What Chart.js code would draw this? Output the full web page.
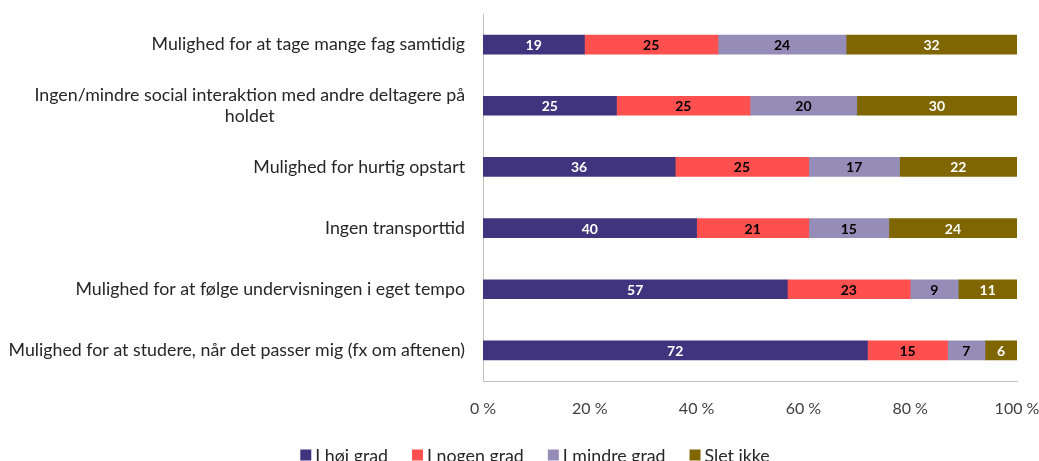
<!DOCTYPE html>
<html>
<head>
<meta charset="utf-8">
<script src="https://cdn.jsdelivr.net/npm/chart.js@4/dist/chart.umd.min.js"></script>
<style>
    html, body { margin: 0; padding: 0; background: #fff; overflow: hidden; }
    #wrap { width: 1039px; height: 461px; position: relative; }
</style>
</head>
<body>
<div id="wrap"><canvas id="chart"></canvas></div>
<script>
// Kategorier (øverst til nederst)
const categories = [
    'Mulighed for at tage mange fag samtidig',
    ['Ingen/mindre social interaktion med andre deltagere på', 'holdet'],
    'Mulighed for hurtig opstart',
    'Ingen transporttid',
    'Mulighed for at følge undervisningen i eget tempo',
    'Mulighed for at studere, når det passer mig (fx om aftenen)'
];

// Andele i procent
const hoejGrad = [19, 25, 36, 40, 57, 72];
const nogenGrad = [25, 25, 25, 21, 23, 15];
const mindreGrad = [24, 20, 17, 15, 9, 7];
const sletIkke = [32, 30, 22, 24, 11, 6];

const seriesNames = ['I høj grad', 'I nogen grad', 'I mindre grad', 'Slet ikke'];
const xTicks = [0, 20, 40, 60, 80, 100];

const colors = ['#41347f', '#ff5050', '#958db7', '#7f6600'];
const labelColors = ['#ffffff', '#000000', '#000000', '#ffffff'];
const FONT = 'Lato, "Noto Sans", sans-serif';

// Tal midt i hvert segment
const valueLabels = {
    id: 'valueLabels',
    afterDatasetsDraw(chart) {
        const ctx = chart.ctx;
        ctx.save();
        ctx.font = 'bold 14px ' + FONT;
        ctx.textAlign = 'center';
        ctx.textBaseline = 'middle';
        chart.data.datasets.forEach((ds, i) => {
            chart.getDatasetMeta(i).data.forEach((bar, j) => {
                ctx.fillStyle = labelColors[i];
                ctx.fillText(ds.data[j], (bar.x + bar.base) / 2, bar.y + 1);
            });
        });
        ctx.restore();
    }
};

// Kategoritekster til venstre (flere linjer centreret som i originalen)
const categoryLabels = {
    id: 'categoryLabels',
    afterDraw(chart) {
        const ctx = chart.ctx;
        const yScale = chart.scales.y;
        const right = chart.chartArea.left - 18;
        ctx.save();
        ctx.font = '17.8px ' + FONT;
        ctx.fillStyle = '#262626';
        ctx.textAlign = 'center';
        ctx.textBaseline = 'middle';
        categories.forEach((cat, i) => {
            const lines = Array.isArray(cat) ? cat : [cat];
            const w = Math.max(...lines.map(l => ctx.measureText(l).width));
            const cy = yScale.getPixelForValue(i);
            const lh = 21;
            lines.forEach((line, k) => {
                const y = cy + (k - (lines.length - 1) / 2) * lh;
                ctx.fillText(line, right - w / 2, y);
            });
        });
        ctx.restore();
    }
};

// Forklaring nederst (delvist afskåret som i originalen)
const bottomLegend = {
    id: 'bottomLegend',
    afterDraw(chart) {
        const ctx = chart.ctx;
        ctx.save();
        ctx.font = '17.8px ' + FONT;
        ctx.textBaseline = 'middle';
        const box = 11, gap = 4, spacing = 24, cy = 455;
        const widths = seriesNames.map(n => box + gap + ctx.measureText(n).width);
        const total = widths.reduce((a, b) => a + b, 0) + spacing * (widths.length - 1);
        let x = 535 - total / 2;
        seriesNames.forEach((name, i) => {
            ctx.fillStyle = colors[i];
            ctx.fillRect(x, cy - box / 2, box, box);
            ctx.fillStyle = '#262626';
            ctx.fillText(name, x + box + gap, cy + 1);
            x += widths[i] + spacing;
        });
        ctx.restore();
    }
};

new Chart(document.getElementById('chart'), {
    type: 'bar',
    data: {
        labels: categories,
        datasets: [hoejGrad, nogenGrad, mindreGrad, sletIkke].map((d, i) => ({
            label: seriesNames[i],
            data: d,
            backgroundColor: colors[i],
            borderWidth: 0,
            barThickness: 19
        }))
    },
    options: {
        indexAxis: 'y',
        responsive: true,
        maintainAspectRatio: false,
        animation: false,
        layout: { padding: { left: 483, right: 22, top: 14, bottom: 42 } },
        scales: {
            x: {
                stacked: true,
                min: 0,
                max: 100,
                afterBuildTicks: s => { s.ticks = xTicks.map(v => ({ value: v })); },
                afterFit: s => {
                    s.height = 38;
                    s.paddingLeft = 0;
                    s.paddingRight = 0;
                },
                grid: { display: false, drawTicks: false },
                border: { color: '#bfbfbf', width: 1 },
                ticks: {
                    padding: 18,
                    maxRotation: 0,
                    color: '#404040',
                    font: { family: FONT, size: 16 },
                    callback: v => v + ' %'
                }
            },
            y: {
                stacked: true,
                grid: { display: false, drawTicks: false },
                border: { color: '#bfbfbf', width: 1 },
                ticks: { display: false }
            }
        },
        plugins: {
            legend: { display: false },
            tooltip: { enabled: false }
        }
    },
    plugins: [valueLabels, categoryLabels, bottomLegend]
});
</script>
</body>
</html>
